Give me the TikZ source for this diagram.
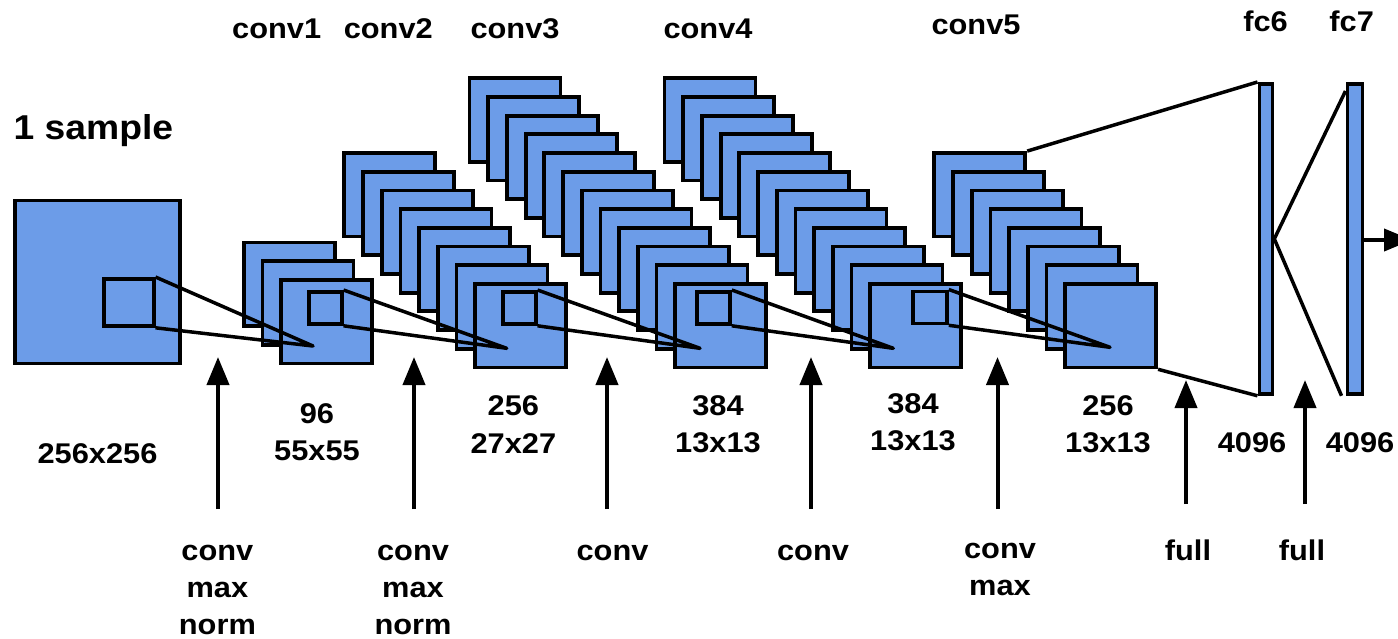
\documentclass[tikz,border=0pt]{standalone}
\usepackage{fontspec}
\setmainfont{Liberation Sans}[FakeStretch=1.08]
\usetikzlibrary{arrows.meta}
\definecolor{mapblue}{RGB}{108,156,232}
\begin{document}
\begin{tikzpicture}[x=1pt,y=-1pt,
  fmap/.style={draw=black,fill=mapblue,line width=3.8pt,inner sep=0pt,
    minimum width=91pt,minimum height=83.5pt,anchor=north west},
  patch/.style={draw=black,fill=mapblue,line width=3.8pt,inner sep=0pt,
    minimum width=33pt,minimum height=32pt,anchor=north west},
  fcbar/.style={draw=black,fill=mapblue,line width=3.8pt,inner sep=0pt,
    minimum height=310pt,anchor=north west},
  ray/.style={line width=3.5pt,line join=round},
  uparrow/.style={line width=4pt,-{Triangle[length=28pt,width=22pt]}},
  lbl/.style={font=\fontsize{28.5}{34}\selectfont\bfseries,inner sep=0pt,anchor=base},
]
\useasboundingbox (0,0) rectangle (1398,638);

% input image
\node[fmap,minimum width=165pt,minimum height=163pt] (in) at (13,198.5) {};

% feature map stacks, drawn back to front
\foreach \i in {1,...,3}
  \node[fmap] (L1-\i) at ({279.3-(3-\i)*18.7},{278-(3-\i)*18.7}) {};
\foreach \i in {1,...,8}
  \node[fmap] (L2-\i) at ({473.3-(8-\i)*18.7},{282-(8-\i)*18.7}) {};
\foreach \i in {1,...,12}
  \node[fmap] (L3-\i) at ({673.3-(12-\i)*18.7},{282-(12-\i)*18.7}) {};
\foreach \i in {1,...,12}
  \node[fmap] (L4-\i) at ({868.3-(12-\i)*18.7},{282-(12-\i)*18.7}) {};
\foreach \i in {1,...,8}
  \node[fmap] (L5-\i) at ({1063.3-(8-\i)*18.7},{282-(8-\i)*18.7}) {};

% receptive field patches
\node[patch,minimum width=50pt,minimum height=47pt] (P0) at (101.7,277) {};
\node[patch] (P1) at (306.7,290) {};
\node[patch] (P2) at (500.7,290) {};
\node[patch] (P3) at (695,290) {};
\node[patch,minimum width=34pt] (P4) at (911,289.5) {};

% projection points on the next layer
\coordinate (T1) at (313,346);
\coordinate (T2) at (506.7,348.3);
\coordinate (T3) at (700,348.3);
\coordinate (T4) at (893.3,348.3);
\coordinate (T5) at (1110,347.3);

\draw[ray] (P0.north east) -- (T1) -- (P0.south east);
\draw[ray] (P1.north east) -- (T2) -- (P1.south east);
\draw[ray] (P2.north east) -- (T3) -- (P2.south east);
\draw[ray] (P3.north east) -- (T4) -- (P3.south east);
\draw[ray] (P4.north east) -- (T5) -- (P4.south east);

% fully connected layers
\node[fcbar,minimum width=13pt] (F6) at (1257.5,82) {};
\node[fcbar,minimum width=15pt] (F7) at (1345.5,82) {};

\draw[ray] (L5-1.north east) -- (F6.north west);
\draw[ray] (L5-8.south east) -- (F6.south west);
\draw[ray] ([yshift=-9pt]F7.north west) -- (F6.east) -- ([xshift=-4pt]F7.south west);

\coordinate (out) at (1412,240);
\draw[uparrow] (F7.east |- out) -- (out);

% operation arrows
\foreach \n/\x in {1/218,2/414,3/607,4/811,5/997.5} {
  \coordinate (A\n b) at (\x,509);
  \coordinate (A\n t) at (\x,357);
  \draw[uparrow] (A\n b) -- (A\n t);
}
\foreach \n/\x in {6/1186,7/1305} {
  \coordinate (A\n b) at (\x,504);
  \coordinate (A\n t) at (\x,380);
  \draw[uparrow] (A\n b) -- (A\n t);
}

% layer names
\node[lbl] (n-c1) at (276.7,38.5) {conv1};
\node[lbl] (n-c2) at (388.3,38.5) {conv2};
\node[lbl] (n-c3) at (515,38.5) {conv3};
\node[lbl] (n-c4) at (708,38.5) {conv4};
\node[lbl] (n-c5) at (976,34) {conv5};
\node[lbl] (n-f6) at (1265.5,31.5) {fc6};
\node[lbl] (n-f7) at (1351.7,31.5) {fc7};
\node[lbl,anchor=base west,font=\fontsize{34.5}{40}\selectfont\bfseries] (n-s) at (13.5,139) {1 sample};

% sizes
\node[lbl] (s0) at (97.5,463) {256x256};
\node[lbl] (s1a) at (317,423) {96};
\node[lbl] (s1b) at (317,460) {55x55};
\node[lbl] (s2a) at (513.4,415) {256};
\node[lbl] (s2b) at (513.4,453) {27x27};
\node[lbl] (s3a) at (718,415) {384};
\node[lbl] (s3b) at (718,452) {13x13};
\node[lbl] (s4a) at (913,413) {384};
\node[lbl] (s4b) at (913,450) {13x13};
\node[lbl] (s5a) at (1108,415) {256};
\node[lbl] (s5b) at (1108,452) {13x13};
\node[lbl] (s6) at (1252,452) {4096};
\node[lbl] (s7) at (1360,452) {4096};

% operations
\node[lbl] (o1a) at (217.4,560) {conv};
\node[lbl] (o1b) at (217.4,597) {max};
\node[lbl] (o1c) at (217.4,634) {norm};
\node[lbl] (o2a) at (413,560) {conv};
\node[lbl] (o2b) at (413,597) {max};
\node[lbl] (o2c) at (413,634) {norm};
\node[lbl] (o3) at (612.5,560) {conv};
\node[lbl] (o4) at (813,560) {conv};
\node[lbl] (o5a) at (1000,558) {conv};
\node[lbl] (o5b) at (1000,595) {max};
\node[lbl] (o6) at (1188,560) {full};
\node[lbl] (o7) at (1302,560) {full};
\end{tikzpicture}
\end{document}
